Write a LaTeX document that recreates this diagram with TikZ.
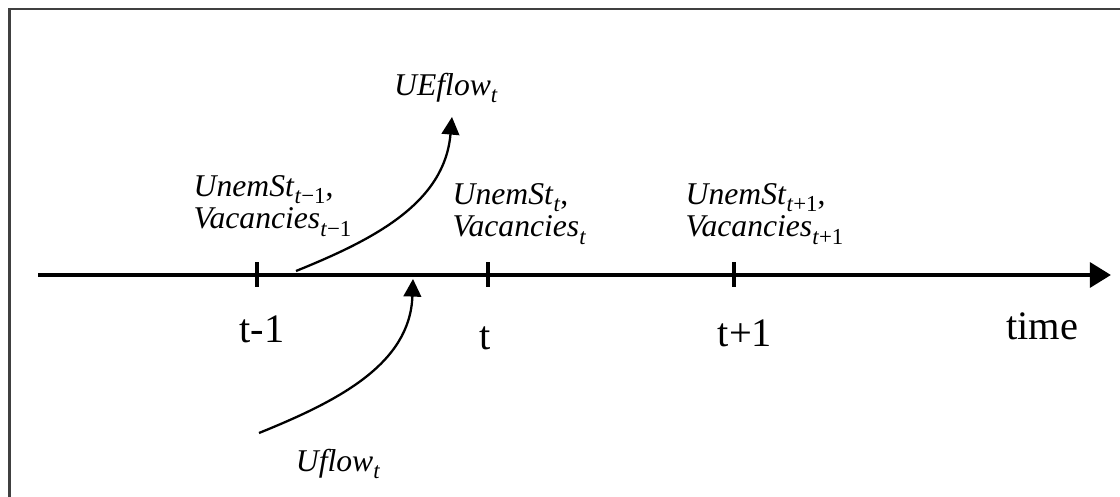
\documentclass[tikz,border=0pt]{standalone}
\usepackage{fontspec}
\setmainfont{Liberation Serif}
\usetikzlibrary{arrows.meta}

% italic symbol with a lowered subscript
\newcommand{\tsub}[2]{\textit{#1}\raisebox{-0.5ex}{\fontsize{6.5}{7}\selectfont\textit{t}#2}}

\begin{document}
\begin{tikzpicture}[x=0.01cm,y=-0.01cm,
    axis/.style={line width=1.3pt,-{Triangle[length=6pt,width=7pt]}},
    flow/.style={line width=0.65pt,-{Triangle[length=5pt,width=5pt]}},
    tick/.style={line width=0.9pt},
    stock/.style={font=\fontsize{9}{9.2}\selectfont,align=left,anchor=west,inner sep=0pt},
    lbl/.style={font=\fontsize{11.5}{12}\selectfont,anchor=base,inner sep=0pt}]
  \useasboundingbox (0,0) rectangle (1120,497);
  % frame
  \draw[line width=0.6pt,black!75] (1130,9) -- (9.5,9) -- (9.5,510);

  % time axis with ticks
  \coordinate (start) at (38,275);
  \coordinate (end) at (1111,275);
  \draw[axis] (start) -- (end);
  \foreach \x/\n in {257/tprev, 488/tnow, 734/tnext}
    \draw[tick] (\x,262) coordinate (\n) -- (\x,287);

  \node[lbl] (lprev) at (262,343) {t-1};
  \node[lbl] (lnow) at (485,350) {t};
  \node[lbl] (lnext) at (745,347) {t+1};
  \node[lbl] (ltime) at (1042,340) {time};

  % stocks at each date
  \node[stock] (sprev) at (193,206) {\tsub{UnemSt}{−1},\\\tsub{Vacancies}{−1}};
  \node[stock] (snow) at (452,214) {\tsub{UnemSt}{},\\\tsub{Vacancies}{}};
  \node[stock] (snext) at (685,214) {\tsub{UnemSt}{+1},\\\tsub{Vacancies}{+1}};

  % flows
  \node[stock,anchor=center] (ue) at (446,88) {\tsub{UEflow}{}};
  \node[stock,anchor=center] (u) at (338,464) {\tsub{Uflow}{}};
  \coordinate (ueout) at (296,271);
  \coordinate (uetip) at (452,117);
  \coordinate (uin) at (259,433);
  \coordinate (utip) at (413,279);
  \draw[flow] (ueout) to[out=22,in=-95] (uetip);
  \draw[flow] (uin) to[out=22,in=-92] (utip);
\end{tikzpicture}
\end{document}
